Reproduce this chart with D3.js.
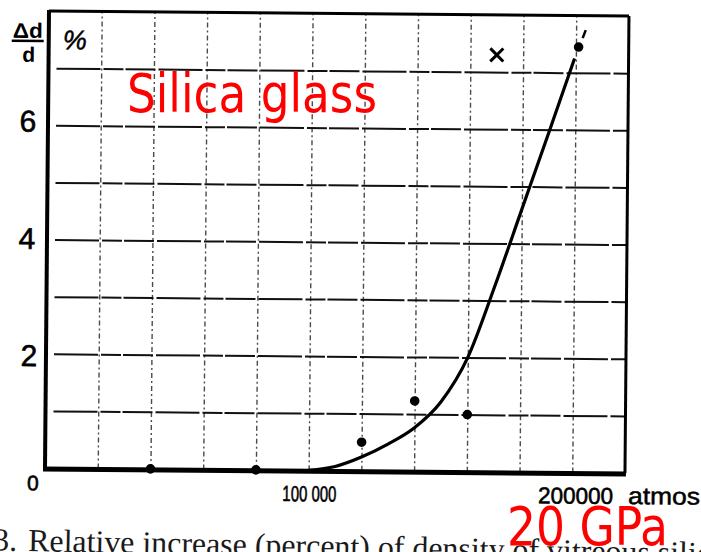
<!DOCTYPE html>
<html><head><meta charset="utf-8">
<script src="https://cdn.jsdelivr.net/npm/d3@7"></script>
<style>html,body{margin:0;padding:0;background:#fff;overflow:hidden}</style>
</head><body><svg id="c" width="701" height="552"></svg>
<script>
// ---- data ----
const xGrid = [20000,40000,60000,80000,100000,120000,140000,160000,180000,200000];
const yGrid = [1,2,3,4,5,6,7];
const yTickLabels = [0,2,4,6];
const xLabelValues = [100000,200000];
const xLabelTexts = ["100 000","200000"];
const xUnit = "atmos";
const curvePressure = [100000,110000,120000,130000,140000,150000,160000,170000,180000,190000,199500];
const curveDensity  = [0,0.07,0.24,0.47,0.76,1.22,2.0,3.25,4.6,5.95,7.25];
const pointPressure = [40000,80000,120000,140000,160000,201000];
const pointDensity  = [0,0,0.5,1.23,1.0,7.45];
const crossPressure = [170000];
const crossDensity  = [7.3];
const title = "Silica glass";
const gpaLabel = "20 GPa";
const caption = "Relative increase (percent) of density of vitreous silica";

// ---- layout ----
const L = 45, T = 11, W = 580, H = 457;
const svg = d3.select("#c");
const x = d3.scaleLinear().domain([0,220000]).range([0,W]);
const y = d3.scaleLinear().domain([0,8]).range([H,0]);

const scan = svg.append("g").attr("transform", `rotate(0.5,${L},${T+H})`);
const g = scan.append("g").attr("transform", `translate(${L},${T})`);

// vertical dash-dot gridlines
g.append("g").call(d3.axisBottom(x).tickValues(xGrid).tickSize(-H).tickFormat(""))
  .attr("transform", `translate(0,${H})`)
  .call(s => s.select(".domain").remove())
  .call(s => s.selectAll("line").attr("stroke","#4a4a4a").attr("stroke-width",1.4)
     .attr("stroke-dasharray","5 3 2 3"));

// horizontal gridlines
g.append("g").call(d3.axisLeft(y).tickValues(yGrid).tickSize(-(W-8)).tickFormat(""))
  .attr("transform","translate(8,0)")
  .call(s => s.select(".domain").remove())
  .call(s => s.selectAll("line").attr("stroke","#111").attr("stroke-width",2)
     .attr("stroke-dasharray","44 3 20 2 30 3"));

// frame
g.append("line").attr("x1",0).attr("x2",W).attr("y1",0).attr("y2",0).attr("stroke","#000").attr("stroke-width",3);
g.append("line").attr("x1",W).attr("x2",W).attr("y1",0).attr("y2",H).attr("stroke","#000").attr("stroke-width",3);
g.append("line").attr("x1",0).attr("x2",0).attr("y1",-1).attr("y2",H).attr("stroke","#000").attr("stroke-width",4);
g.append("line").attr("x1",-2).attr("x2",W+1).attr("y1",H+1).attr("y2",H+1).attr("stroke","#000").attr("stroke-width",5);

// curve
const curveData = curvePressure.map((p,i)=>[p,curveDensity[i]]);
g.append("path").datum(curveData)
  .attr("d", d3.line().x(d=>x(d[0])).y(d=>y(d[1])).curve(d3.curveMonotoneX))
  .attr("fill","none").attr("stroke","#000").attr("stroke-width",3.2);

// points
g.selectAll("circle.pt").data(pointPressure.map((p,i)=>[p,pointDensity[i]])).join("circle")
  .attr("class","pt").attr("cx",d=>x(d[0])).attr("cy",d=>y(d[1])).attr("r",4.8).attr("fill","#000");

// small tick mark near the last point
const lp = [pointPressure[pointPressure.length-1], pointDensity[pointDensity.length-1]];
g.append("line").attr("x1",x(lp[0])+4).attr("y1",y(lp[1])-9).attr("x2",x(lp[0])+7).attr("y2",y(lp[1])-17)
  .attr("stroke","#000").attr("stroke-width",2.5);

// cross marker
crossPressure.forEach((p,i)=>{
  const cx = x(p), cy = y(crossDensity[i]), s = 6.5;
  g.append("path").attr("d",`M${cx-s},${cy-s}L${cx+s},${cy+s}M${cx+s},${cy-s}L${cx-s},${cy+s}`)
    .attr("stroke","#000").attr("stroke-width",3);
});

// y tick labels
const yLabOff = {0:[-12,15],2:[-17,2],4:[-20,-1],6:[-20,-4]};
g.selectAll("text.yl").data(yTickLabels).join("text").attr("class","yl")
  .attr("x",d=>yLabOff[d][0]).attr("y",d=>y(d)+yLabOff[d][1])
  .attr("text-anchor","middle").attr("dominant-baseline","central")
  .attr("font-family","Liberation Sans, Arial, sans-serif")
  .attr("font-size",d=>d===0?21:30).attr("stroke","#000").attr("stroke-width",0.6)
  .text(d=>d);

// x tick labels
g.selectAll("text.xl").data(xLabelValues).join("text").attr("class","xl")
  .attr("x",(d,i)=>x(d)-(i===0?26:34)).attr("y",H+31)
  .attr("font-family","Liberation Sans, Arial, sans-serif").attr("font-size",(d,i)=>i===0?22:23)
  .attr("textLength",(d,i)=>i===0?54:75).attr("lengthAdjust","spacingAndGlyphs")
  .attr("stroke","#000").attr("stroke-width",0.6)
  .text((d,i)=>xLabelTexts[i]);
g.append("text").attr("x",x(200000)+56).attr("y",H+31)
  .attr("font-family","Liberation Sans, Arial, sans-serif").attr("font-size",24)
  .attr("textLength",72).attr("lengthAdjust","spacingAndGlyphs")
  .attr("stroke","#000").attr("stroke-width",0.5).text(xUnit);

// y axis label Δd/d and %
g.append("text").attr("x",-21).attr("y",27).attr("text-anchor","middle")
  .attr("font-family","Liberation Sans, Arial, sans-serif").attr("font-size",21).attr("font-weight","bold")
  .attr("textLength",30).attr("lengthAdjust","spacingAndGlyphs").text("Δd");
g.append("line").attr("x1",-37).attr("x2",-5).attr("y1",30).attr("y2",30).attr("stroke","#000").attr("stroke-width",2.5);
g.append("text").attr("x",-20).attr("y",51).attr("text-anchor","middle")
  .attr("font-family","Liberation Sans, Arial, sans-serif").attr("font-size",21).attr("font-weight","bold").text("d");
g.append("text").attr("x",26).attr("y",38).attr("text-anchor","middle")
  .attr("font-family","Liberation Sans, Arial, sans-serif").attr("font-size",27).attr("font-style","italic")
  .attr("stroke","#000").attr("stroke-width",0.5).text("%");

// caption (scanned, slightly tilted)
const cap = svg.append("g").attr("transform","rotate(1.1,28,550)");
cap.append("text").attr("x",17).attr("y",551).attr("text-anchor","end")
  .attr("font-family","Liberation Serif, serif").attr("font-size",32).attr("fill","#1a1a1a").text("3.");
cap.append("text").attr("x",28).attr("y",551)
  .attr("font-family","Liberation Serif, serif").attr("font-size",32).attr("fill","#1a1a1a")
  .attr("textLength",697).attr("lengthAdjust","spacingAndGlyphs").text(caption);

// red overlay annotations
svg.append("text").attr("x",127).attr("y",112).attr("fill","#ff0000")
  .attr("font-family","DejaVu Sans Condensed, DejaVu Sans, sans-serif").attr("font-size",53)
  .attr("textLength",250).attr("lengthAdjust","spacingAndGlyphs").text(title);
svg.append("text").attr("x",507).attr("y",545).attr("fill","#ff0000")
  .attr("font-family","DejaVu Sans Condensed, DejaVu Sans, sans-serif").attr("font-size",53)
  .attr("textLength",161).attr("lengthAdjust","spacingAndGlyphs").text(gpaLabel);
</script></body></html>
